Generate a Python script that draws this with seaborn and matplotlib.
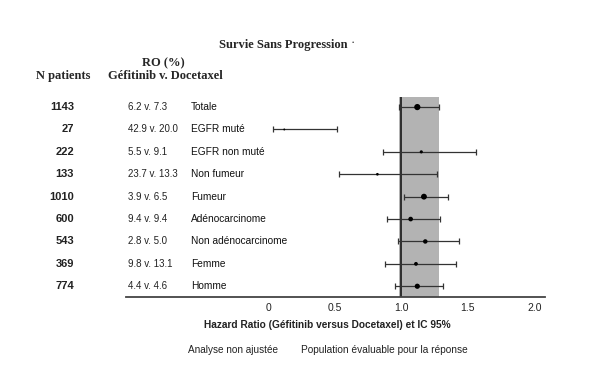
import matplotlib
matplotlib.use("Agg")
import matplotlib.pyplot as plt
import seaborn as sns
import pandas as pd
from matplotlib.transforms import blended_transform_factory

# data
subgroups = ['Totale', 'EGFR muté', 'EGFR non muté', 'Non fumeur', 'Fumeur',
             'Adénocarcinome', 'Non adénocarcinome', 'Femme', 'Homme']
n_patients = [1143, 27, 222, 133, 1010, 600, 543, 369, 774]
ro_text = ['6.2 v. 7.3', '42.9 v. 20.0', '5.5 v. 9.1', '23.7 v. 13.3', '3.9 v. 6.5',
           '9.4 v. 9.4', '2.8 v. 5.0', '9.8 v. 13.1', '4.4 v. 4.6']
hr = [1.12, 0.12, 1.15, 0.82, 1.17, 1.07, 1.18, 1.11, 1.12]
ci_low = [0.98, 0.035, 0.86, 0.53, 1.02, 0.89, 0.975, 0.88, 0.95]
ci_high = [1.28, 0.52, 1.56, 1.27, 1.35, 1.29, 1.43, 1.41, 1.31]
band = (0.98, 1.28)
xticks = [0, 0.5, 1.0, 1.5, 2.0]

df = pd.DataFrame({'subgroup': subgroups, 'n': n_patients, 'hr': hr,
                   'lo': ci_low, 'hi': ci_high, 'row': range(len(subgroups))})

sns.set_style("white")
plt.rcParams['font.family'] = ['Liberation Sans', 'DejaVu Sans']

W, H = 604, 376
fig = plt.figure(figsize=(W / 100, H / 100), dpi=100)
ax = fig.add_axes([126 / W, 1 - 297 / H, 419 / W, 200 / H])

ax.axvspan(band[0], band[1], color='#b3b3b3', zorder=0, lw=0)
ax.axvline(1.0, color='#222222', lw=1.3, zorder=1)

ax.errorbar(df['hr'], df['row'],
            xerr=[df['hr'] - df['lo'], df['hi'] - df['hr']],
            fmt='none', ecolor='#333333', elinewidth=0.9, capsize=2.5, capthick=0.9, zorder=2)
sns.scatterplot(data=df, x='hr', y='row', size='n', sizes=(2, 20), color='black',
                edgecolor='none', legend=False, ax=ax, zorder=3)

ax.set_xlim(-1.07, 2.08)
ax.set_ylim(8.48, -0.45)
ax.set_yticks([])
ax.set_xticks(xticks)
ax.set_xticklabels(['0', '0.5', '1.0', '1.5', '2.0'], fontsize=7.5, color='#222222')
ax.tick_params(axis='x', length=0, pad=4)
ax.set_xlabel('')
ax.set_ylabel('')
for s in ['top', 'right', 'left']:
    ax.spines[s].set_visible(False)
ax.spines['bottom'].set_color('#444444')
ax.spines['bottom'].set_linewidth(1.3)

# table columns
tr = blended_transform_factory(fig.transFigure, ax.transData)
for i in range(len(subgroups)):
    ax.text(74 / W, i, str(n_patients[i]), transform=tr, ha='right', va='center',
            fontsize=8, fontweight='bold', color='#222222')
    ax.text(128 / W, i, ro_text[i], transform=tr, ha='left', va='center',
            fontsize=7, color='#222222')
    ax.text(191 / W, i, subgroups[i], transform=tr, ha='left', va='center',
            fontsize=7.3, color='#111111')

serif = ['Liberation Serif', 'DejaVu Serif']
fig.text(283 / W, 1 - 45 / H, 'Survie Sans Progression', ha='center', va='center',
         fontsize=9, fontweight='bold', family=serif)
fig.text(353 / W, 1 - 43 / H, '·', ha='center', va='center', fontsize=9, family=serif)
fig.text(163 / W, 1 - 63 / H, 'RO (%)', ha='center', va='center',
         fontsize=9, fontweight='bold', family=serif)
fig.text(165 / W, 1 - 76 / H, 'Géfitinib v. Docetaxel', ha='center', va='center',
         fontsize=9, fontweight='bold', family=serif)
fig.text(63 / W, 1 - 76 / H, 'N patients', ha='center', va='center',
         fontsize=9, fontweight='bold', family=serif)

fig.text(327 / W, 1 - 325 / H, 'Hazard Ratio (Géfitinib versus Docetaxel) et IC 95%',
         ha='center', va='center', fontsize=7.3, fontweight='bold', color='#222222')
fig.text(188 / W, 1 - 350 / H, 'Analyse non ajustée', ha='left', va='center',
         fontsize=7.2, color='#222222')
fig.text(301 / W, 1 - 350 / H, 'Population évaluable pour la réponse', ha='left',
         va='center', fontsize=7.3, color='#222222')

fig.savefig('out.png', dpi=100)
